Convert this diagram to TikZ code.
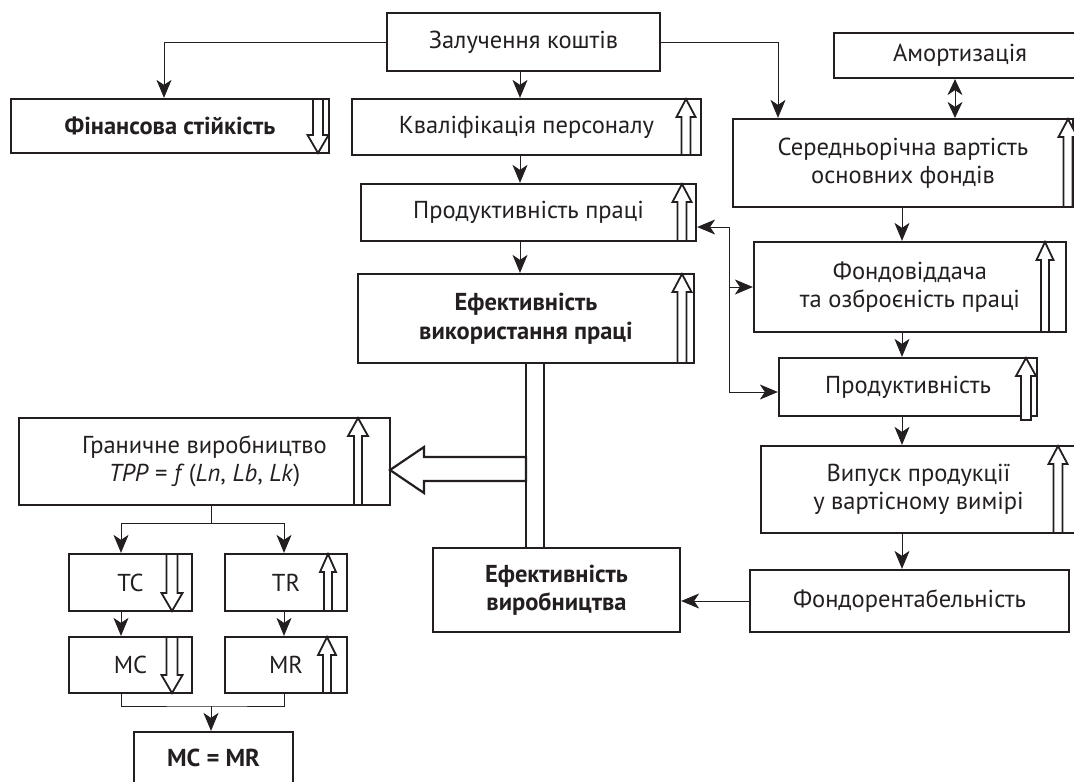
\documentclass[tikz,border=0pt]{standalone}
\usepackage{fontspec}
\setmainfont{PT Sans}
\usetikzlibrary{arrows.meta}
\definecolor{ink}{HTML}{231F20}
\newcommand\myup[6]{\draw[harrow] ({#1-#5},#3) -- ({#1-#5},{#2+#6}) -- ({#1-#4},{#2+#6}) -- (#1,#2) -- ({#1+#4},{#2+#6}) -- ({#1+#5},{#2+#6}) -- ({#1+#5},#3) -- cycle;}
\newcommand\mydown[6]{\draw[harrow] ({#1-#5},#2) -- ({#1-#5},{#3-#6}) -- ({#1-#4},{#3-#6}) -- (#1,#3) -- ({#1+#4},{#3-#6}) -- ({#1+#5},{#3-#6}) -- ({#1+#5},#2) -- cycle;}
\tikzset{
  box/.style={draw=ink, line width=2.2pt, rectangle, inner sep=0pt, align=center,
    font=\fontsize{24.5}{28.5}\selectfont, text=ink},
  bbox/.style={box, font=\fontsize{24.5}{28.5}\selectfont\bfseries},
  conn/.style={draw=ink, line width=1pt, -{Stealth[length=18pt,width=15pt,inset=5pt]}},
  dconn/.style={draw=ink, line width=1pt, {Stealth[length=16pt,width=15pt,inset=5pt]}-{Stealth[length=16pt,width=15pt,inset=5pt]}},
  plain/.style={draw=ink, line width=1pt},
  harrow/.style={draw=ink, line width=1.8pt, fill=white, line join=miter},
  thickbar/.style={draw=ink, line width=2.2pt, fill=white, line join=miter},
}
\begin{document}
\begin{tikzpicture}[x=1pt,y=-1pt]
\useasboundingbox (0,0) rectangle (1074,782);
% column coordinates
\coordinate (cA) at (520,0);
\coordinate (cB) at (902,0);
\coordinate (cF) at (164,0);
\coordinate (cS) at (778,0);
\coordinate (cD) at (955,0);
\coordinate (cG) at (211,0);
\coordinate (cT) at (121,0);
\coordinate (cR) at (284,0);
% boxes
\node[box, minimum width=273pt, minimum height=58pt] (zal) at (523.5,42) {Залучення коштів};
\node[bbox, minimum width=318pt, minimum height=54pt] (fin) at (170,126) {Фінансова стійкість};
\node[box, minimum width=349pt, minimum height=56pt] (kval) at (526.5,127) {Кваліфікація персоналу};
\node[box, minimum width=335pt, minimum height=57pt] (prp) at (528.5,212.5) {Продуктивність праці};
\node[bbox, minimum width=336pt, minimum height=89pt] (efp) at (526,318.5) {Ефективність\\використання праці};
\node[box, minimum width=252pt, minimum height=45pt] (amo) at (960,55.5) {Амортизація};
\node[box, minimum width=340pt, minimum height=88pt] (ser) at (903,163) {Середньорічна вартість\\основних фондів};
\node[box, minimum width=312pt, minimum height=90pt] (fon) at (910,287) {Фондовіддача\\та озброєність праці};
\node[box, minimum width=258pt, minimum height=58pt] (prr) at (908,387) {Продуктивність};
\node[box, minimum width=315pt, minimum height=87pt] (vyp) at (918.5,489.5) {Випуск продукції\\у вартісному вимірі};
\node[box, minimum width=319pt, minimum height=62pt] (fr) at (909.5,601) {Фондорентабельність};
\node[bbox, minimum width=247pt, minimum height=84pt] (efv) at (556.5,590) {Ефективність\\виробництва};
\node[box, minimum width=371pt, minimum height=87pt] (gran) at (204.5,461.5) {Граничне виробництво\\\textit{TPP} = \textit{f}\,(\textit{Ln}, \textit{Lb}, \textit{Lk})};
\node[box, minimum width=123pt, minimum height=57pt] (tc) at (130.5,582.5) {TC};
\node[box, minimum width=122pt, minimum height=57pt] (tr) at (286,582.5) {TR};
\node[box, minimum width=123pt, minimum height=56pt] (mc) at (130.5,665) {MC};
\node[box, minimum width=122pt, minimum height=56pt] (mr) at (286,665) {MR};
\node[bbox, minimum width=159pt, minimum height=52pt] (eq) at (213.5,758) {MC = MR};
% hollow arrows inside boxes
\mydown{318}{99}{153}{10.5}{5}{18}
\myup{686}{99}{155}{9.5}{4.5}{18}
\myup{682}{184}{241}{9.5}{4.5}{18}
\myup{682}{274}{363}{9.5}{4.5}{18}
\myup{1068}{119}{207}{9.5}{4.5}{18}
\myup{1045}{242}{332}{8.5}{4}{18}
\myup{1026}{358}{420}{10}{5}{18}
\myup{1058}{446}{533}{9.5}{4.5}{18}
\myup{358}{418}{505}{10}{4}{18}
\mydown{172}{554}{611}{10.5}{5.5}{18}
\myup{328}{554}{611}{8}{4}{18}
\mydown{172}{637}{693}{10.5}{5.5}{18}
\myup{327}{637}{693}{9}{4}{18}
% thick bar and big hollow arrow
\draw[thickbar] (526,363) rectangle (544,548);
\draw[thickbar] (526,457) -- (424,457) -- (424,447) -- (390,470) -- (424,493) -- (424,481) -- (526,481) -- cycle;
% connectors
\draw[conn] (zal.south -| cA) -- (kval.north -| cA);
\draw[conn] (kval.south -| cA) -- (prp.north -| cA);
\draw[conn] (prp.south -| cA) -- (efp.north -| cA);
\draw[conn] (zal.west) -| (fin.north -| cF);
\draw[conn] (zal.east) -| (ser.north -| cS);
\draw[dconn] (amo.south -| cD) -- (ser.north -| cD);
\draw[conn] (ser.south -| cB) -- (fon.north -| cB);
\draw[conn] (fon.south -| cB) -- (prr.north -| cB);
\draw[conn] (prr.south -| cB) -- (vyp.north -| cB);
\draw[conn] (vyp.south -| cB) -- (fr.north -| cB);
\draw[conn] (fr.west) -- (fr.west -| efv.east);
\coordinate (j1) at (729,227);
\coordinate (j3) at (729,392);
\draw[plain] (j1) -- (j3);
\draw[conn] (j1) -- (j1 -| prp.east);
\draw[conn] (j1 |- fon.west) -- (fon.west);
\draw[conn] (j3) -- (j3 -| prr.west);
\coordinate (jg) at (211,523);
\draw[plain] (gran.south -| cG) -- (jg);
\draw[conn] (jg) -| (tc.north -| cT);
\draw[conn] (jg) -| (tr.north -| cR);
\draw[conn] (tc.south -| cT) -- (mc.north -| cT);
\draw[conn] (tr.south -| cR) -- (mr.north -| cR);
\coordinate (jb) at (211,706);
\draw[plain] (mc.south -| cT) |- (jb) -| (mr.south -| cR);
\draw[conn] (jb) -- (eq.north -| cG);
\end{tikzpicture}
\end{document}
